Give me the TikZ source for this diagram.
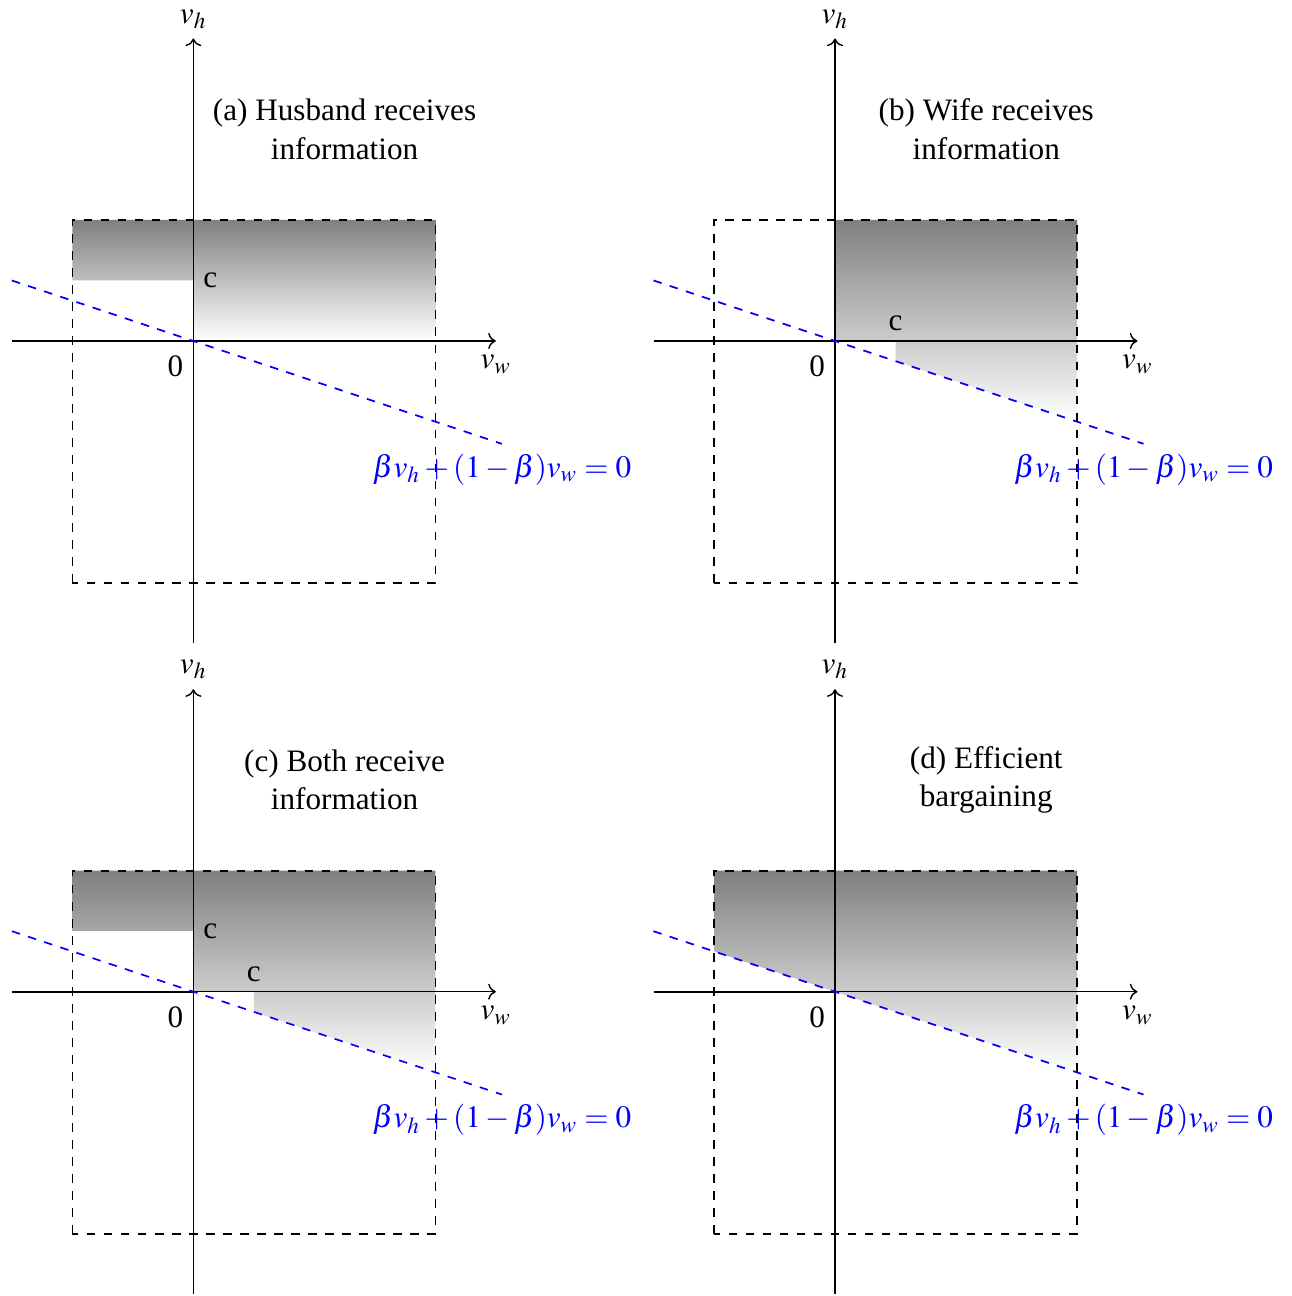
\documentclass[tikz,border=0pt]{standalone}
\usepackage{mathptmx}
\usepackage{fontspec}
\setmainfont{Liberation Serif}
\usetikzlibrary{arrows.meta}

\begin{document}
\begin{tikzpicture}[
  x=1.5cm,
  y=1.5cm,
  every node/.style={font=\fontsize{11}{13.6}\selectfont},
  axis/.style={->, line width=0.5pt},
  negaxis/.style={line width=0.8pt},
  frame/.style={dashed, line width=0.6pt},
  budget/.style={color=blue, dashed, line width=0.6pt},
  region/.style={top color=gray, bottom color=white},
  title/.style={align=center}
]
\useasboundingbox (-1.598,-7.893) rectangle (9.072,2.818);

% (a) husband informed
\shade[region] (-1,1) -- (2,1) -- (2,0) -- (0,0) -- (0,0.5) -- (-1,0.5) -- cycle;
% (b) wife informed
\begin{scope}[shift={(5.303,0)}]
\shade[region] (0,1) -- (2,1) -- (2,-2/3) -- (0.5,-1/6) -- (0.5,0) -- (0,0) -- cycle;
\end{scope}
% (c) both informed
\begin{scope}[shift={(0,-5.378)}]
\shade[region] (-1,1) -- (2,1) -- (2,-2/3) -- (0.5,-1/6) -- (0.5,0) -- (0,0) -- (0,0.5) -- (-1,0.5) -- cycle;
\end{scope}
% (d) efficient
\begin{scope}[shift={(5.303,-5.378)}]
\shade[region] (-1,1) -- (2,1) -- (2,-2/3) -- (-1,1/3) -- cycle;
\end{scope}

% common parts of every panel
\foreach \p/\dx/\dy in {a/0/0, b/5.303/0, c/0/-5.378, d/5.303/-5.378} {
  \begin{scope}[shift={(\dx,\dy)}]
    \draw[frame] (-1,-2) rectangle (2,1);
    \coordinate (\p-o) at (0,0);
    \coordinate (\p-xl) at (-1.5,0);
    \coordinate (\p-xr) at (2.5,0);
    \coordinate (\p-yb) at (0,-2.5);
    \coordinate (\p-yt) at (0,2.5);
    \coordinate (\p-bl) at (-1.5,0.5);
    \coordinate (\p-br) at (2.55,-0.85);
    \draw[axis] (\p-xl) -- (\p-xr);
    \draw[negaxis] (\p-xl) -- (\p-o);
    \draw[axis] (\p-yb) -- (\p-yt);
    \node[above] (\p-vh) at (\p-yt) {$v_h$};
    \node[below, yshift=-1.5pt] (\p-vw) at (\p-xr) {$v_w$};
    \node[below left, yshift=-1.8pt] (\p-zero) at (\p-o) {0};
    \draw[budget] (\p-bl) -- (\p-br);
    \node[below, text=blue] (\p-eq) at (\p-br) {$\beta v_h+(1-\beta)v_w=0$};
  \end{scope}
}

% titles and thresholds
\node[title] (a-title) at (1.25,1.75) {(a) Husband receives\\information};
\node[right] (a-c) at (0,0.5) {c};

\node[title] (b-title) at (6.553,1.75) {(b) Wife receives\\information};
\node[above] (b-c) at (5.803,0) {c};

\node[title] (c-title) at (1.25,-3.628) {(c) Both receive\\information};
\node[right] (c-c1) at (0,-4.878) {c};
\node[above] (c-c2) at (0.5,-5.378) {c};

\node[title] (d-title) at (6.553,-3.628) {(d) Efficient\\bargaining};
\end{tikzpicture}
\end{document}
